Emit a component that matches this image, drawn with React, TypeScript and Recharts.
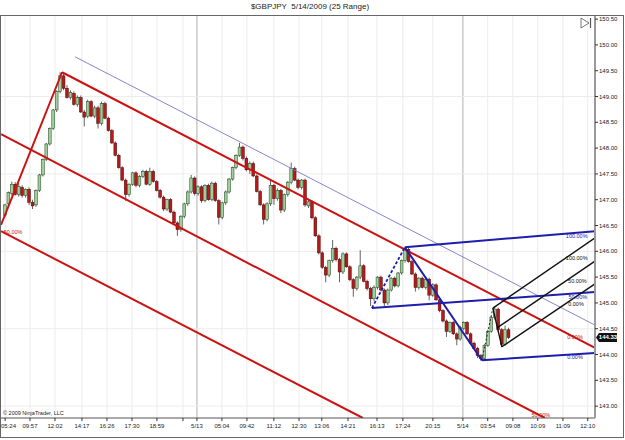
import React from 'react';
import { ComposedChart, Bar, XAxis, YAxis, ReferenceLine, ReferenceDot } from 'recharts';

// bar-chart candles [open, high, low, close], one per 25-pip range bar
const ohlc: number[][] = [
  [146.70,146.92,146.66,146.90],[146.92,147.16,146.88,147.14],[147.12,147.35,147.08,147.30],[147.30,147.34,147.08,147.10],
  [147.10,147.32,147.06,147.26],[147.24,147.28,147.04,147.08],[147.08,147.22,147.04,147.20],[147.20,147.24,146.90,146.95],
  [146.95,147.00,146.82,146.88],[146.90,147.20,146.86,147.18],[147.18,147.50,147.15,147.48],[147.48,147.80,147.45,147.78],
  [147.78,148.10,147.75,148.08],[148.08,148.40,148.05,148.38],[148.38,148.76,148.35,148.74],[148.74,149.12,148.70,149.10],
  [149.10,149.47,149.06,149.40],[149.40,149.44,149.12,149.16],[149.16,149.22,148.96,148.98],[148.98,149.12,148.94,149.08],
  [149.06,149.10,148.82,148.85],[148.85,149.02,148.80,148.98],[148.98,149.02,148.68,148.70],[148.70,148.74,148.42,148.60],
  [148.62,148.94,148.58,148.90],[148.90,148.93,148.60,148.62],[148.62,148.82,148.58,148.78],[148.78,148.82,148.38,148.48],
  [148.48,148.90,148.44,148.86],[148.86,148.90,148.56,148.58],[148.58,148.61,148.32,148.34],[148.34,148.37,148.08,148.10],
  [148.10,148.13,147.84,147.86],[147.86,147.89,147.60,147.62],[147.62,147.65,147.36,147.38],[147.38,147.41,146.98,147.10],
  [147.10,147.32,147.06,147.30],[147.30,147.54,147.27,147.52],[147.52,147.55,147.24,147.28],[147.28,147.48,147.24,147.45],
  [147.45,147.58,147.42,147.55],[147.55,147.58,147.28,147.30],[147.30,147.62,147.27,147.55],[147.55,147.58,147.33,147.35],
  [147.35,147.38,147.16,147.18],[147.18,147.21,147.02,147.05],[147.05,147.08,146.78,146.82],[146.82,147.02,146.78,147.00],
  [147.00,147.03,146.74,146.76],[146.76,146.79,146.53,146.55],[146.55,146.58,146.30,146.42],[146.42,146.70,146.38,146.68],
  [146.68,146.94,146.64,146.92],[146.92,147.18,146.88,147.15],[147.15,147.48,147.12,147.42],[147.42,147.45,147.08,147.12],
  [147.12,147.28,147.08,147.25],[147.25,147.28,146.94,146.98],[146.98,147.30,146.95,147.28],[147.28,147.31,146.98,147.00],
  [147.00,147.35,146.97,147.32],[147.32,147.35,146.96,146.98],[146.98,147.01,146.52,146.66],[146.66,146.96,146.62,146.94],
  [146.94,147.18,146.90,147.15],[147.15,147.42,147.12,147.40],[147.40,147.64,147.37,147.62],[147.62,147.88,147.59,147.86],
  [147.86,148.10,147.83,148.02],[148.02,148.05,147.76,147.80],[147.80,147.84,147.55,147.58],[147.58,147.74,147.50,147.70],
  [147.70,147.74,147.44,147.46],[147.46,147.49,147.14,147.16],[147.16,147.19,146.88,146.90],[146.90,146.93,146.52,146.62],
  [146.62,146.95,146.58,146.92],[146.92,147.40,146.88,147.28],[147.28,147.31,146.90,147.02],[147.02,147.22,146.98,147.18],
  [147.18,147.21,146.74,146.80],[146.80,147.12,146.76,147.10],[147.10,147.36,147.06,147.34],[147.34,147.72,147.30,147.60],
  [147.60,147.64,147.36,147.38],[147.38,147.41,147.20,147.24],[147.24,147.40,147.20,147.38],[147.38,147.41,146.86,146.90],
  [146.88,147.00,146.84,146.96],[146.96,146.99,146.62,146.65],[146.65,146.68,146.28,146.30],[146.30,146.33,145.94,145.97],
  [145.97,146.00,145.66,145.69],[145.69,145.72,145.40,145.54],[145.54,145.84,145.50,145.82],[145.82,146.22,145.78,146.06],
  [146.06,146.09,145.80,145.84],[145.84,145.87,145.40,145.60],[145.60,145.98,145.56,145.95],[145.95,145.98,145.68,145.70],
  [145.70,145.73,145.42,145.45],[145.45,145.48,145.12,145.28],[145.28,145.52,145.24,145.50],[145.50,146.02,145.46,145.72],
  [145.72,145.75,145.40,145.42],[145.42,145.45,145.24,145.28],[145.28,145.31,144.94,145.08],[145.08,145.34,145.04,145.30],
  [145.30,145.52,145.26,145.50],[145.50,145.53,145.22,145.25],[145.25,145.28,144.94,145.00],[145.00,145.28,144.96,145.25],
  [145.25,145.50,145.22,145.48],[145.48,145.51,145.30,145.33],[145.33,145.60,145.30,145.58],[145.58,145.84,145.55,145.82],
  [145.82,146.08,145.78,146.04],[146.04,146.07,145.78,145.80],[145.80,145.83,145.54,145.56],[145.56,145.59,145.22,145.30],
  [145.30,145.50,145.26,145.48],[145.48,145.51,145.28,145.30],[145.30,145.50,145.26,145.46],[145.46,145.49,145.05,145.15],
  [145.15,145.38,145.12,145.35],[145.35,145.38,145.04,145.06],[145.06,145.09,144.82,144.85],[144.85,144.88,144.62,144.65],
  [144.65,144.68,144.34,144.45],[144.45,144.64,144.42,144.62],[144.62,144.65,144.38,144.40],[144.40,144.43,144.18,144.30],
  [144.30,144.56,144.27,144.53],[144.50,144.64,144.47,144.62],[144.62,144.65,144.38,144.40],[144.40,144.43,144.20,144.22],
  [144.22,144.25,144.10,144.12],[144.12,144.15,143.93,143.98],[143.98,144.01,143.88,143.92],[143.92,144.20,143.89,144.18],
  [144.18,144.48,144.15,144.45],[144.45,144.74,144.42,144.72],[144.72,144.92,144.68,144.88],[144.88,144.91,144.44,144.48],
  [144.48,144.51,144.14,144.20],[144.20,144.56,144.17,144.48],[144.48,144.52,144.30,144.33],
];

// time axis labels and their bar positions
const timeLabels = ['05:24','09:57','12:02','14:17','16:26','17:30','18:59','','5/13','05:04','09:42','11:12','12:30','13:06','14:21','16:13','17:24','20:15','5/14','03:54','09:08','10:09','11:09','12:10'];
const timePos = [0,7.2,14.45,22.27,29.52,36.77,44,51.55,55.6,62.85,70.1,77.9,85.2,91.8,99.4,107.8,115.3,124,132.7,139.9,147.2,154.4,161.7,168.9];
const dayBreaks = ['5/13', '5/14'];

const priceTicks = [143, 143.5, 144, 144.5, 145, 145.5, 146, 146.5, 147, 147.5, 148, 148.5, 149, 149.5, 150, 150.5];
const priceGrid = [149, 147.5, 146, 144.5, 143];

// drawn trend tools: [barFrom, priceFrom, barTo, priceTo]
const redLines = [
  [-1.2, 146.51, 16.5, 149.47],
  [16.5, 149.47, 171, 144.13],
  [-1.2, 148.27, 156.46, 142.77],
  [-1.2, 146.39, 103.7, 142.77],
];
const thinLine = [20.25, 149.77, 171, 144.57];
const blueLines = [
  [115.88, 146.08, 138.2, 143.89],
  [115.88, 146.08, 171, 146.39],
  [106.32, 144.90, 171, 145.21],
  [138.2, 143.89, 171, 144.03],
];
const blueDashed = [106.32, 144.90, 115.88, 146.08];
const blackLines = [
  [141.39, 144.90, 144.0, 144.15],
  [141.39, 144.90, 171, 146.26],
  [142.69, 144.52, 171, 145.81],
  [144.0, 144.15, 171, 145.37],
];
const blackDashed = [138.2, 143.89, 141.39, 144.90];

// level labels: [bar, price, text, colour]
const levelLabels: [number, number, string, string][] = [
  [2.3, 146.37, '50.00%', '#c81414'],
  [155.3, 142.83, '50.00%', '#c81414'],
  [165.2, 144.33, '0.00%', '#c81414'],
  [165.7, 146.30, '100.00%', '#2020a8'],
  [166.0, 145.11, '50.00%', '#2020a8'],
  [165.2, 143.95, '0.00%', '#2020a8'],
  [165.7, 145.87, '100.00%', '#111'],
  [165.9, 145.42, '50.00%', '#111'],
  [165.5, 144.98, '0.00%', '#111'],
];

const data = ohlc.map((v, i) => ({ i, o: v[0], h: v[1], l: v[2], c: v[3] }));
const lastClose = ohlc[ohlc.length - 1][3];

const FONT = '"Liberation Sans", Arial, sans-serif';

const Candle = (props: any) => {
  const { x, y, width, height, payload } = props;
  if (x == null || y == null) return null;
  const { o, h, l, c } = payload;
  const yHi = Math.min(y, y + height);
  const yLo = Math.max(y, y + height);
  const toY = (p: number) => yHi + ((h - p) / (h - l)) * (yLo - yHi);
  const cx = x + width / 2;
  const up = c >= o;
  const yo = toY(o);
  const yc = toY(c);
  const top = Math.min(yo, yc);
  const bh = Math.max(1, Math.abs(yo - yc));
  return (
    <g>
      <line x1={cx} x2={cx} y1={yHi} y2={yLo} stroke="#3a3a3a" strokeWidth={0.8} />
      <rect x={cx - 1.4} y={top} width={2.8} height={bh}
        fill={up ? '#9fd09a' : '#b81818'} stroke={up ? '#1f3f1f' : '#4a0808'} strokeWidth={0.5} />
    </g>
  );
};

const TimeTick = (props: any) => {
  const { x, y, payload, index } = props;
  const label = timeLabels[index] ?? '';
  const nearLeft = x < 10;
  return (
    <text x={nearLeft ? 1 : x} y={y + 6} textAnchor={nearLeft ? 'start' : 'middle'} fontSize={6} fill="#222" fontFamily={FONT}>
      {label}
    </text>
  );
};

const seg = (s: number[]) => [{ x: s[0], y: s[1] }, { x: s[2], y: s[3] }];

export default function App() {
  return (
    <div style={{ position: 'absolute', left: 0, top: 0, width: 625, height: 440, background: '#fff', fontFamily: FONT, overflow: 'hidden' }}>
      <div style={{ position: 'absolute', top: 2, left: 0, width: 620, textAlign: 'center', fontSize: 8, color: '#222', whiteSpace: 'pre' }}>
        {'$GBPJPY  5/14/2009 (25 Range)'}
      </div>
      <div style={{ position: 'absolute', left: 0, top: 15, width: 622, height: 421, border: '1px solid #666' }} />
      <div style={{ position: 'absolute', left: 0, top: 0 }}>
        <ComposedChart width={625} height={440} data={data} margin={{ top: 16, right: 1, bottom: 2, left: 1 }}>
          {timePos.map((t, k) => (
            <ReferenceLine key={'vg' + k} x={t} stroke={dayBreaks.includes(timeLabels[k]) ? '#b0b0b0' : '#ececec'} strokeWidth={1} zIndex={-100} />
          ))}
          {priceGrid.map((p) => (
            <ReferenceLine key={'hg' + p} y={p} stroke="#ececec" strokeWidth={1} zIndex={-100} />
          ))}
          <XAxis dataKey="i" type="number" domain={[-1.2, 171]} allowDataOverflow ticks={timePos} interval={0}
            height={20} tick={<TimeTick />} tickSize={3} tickMargin={1}
            tickLine={{ stroke: '#333' }} axisLine={{ stroke: '#555' }} />
          <YAxis orientation="right" type="number" domain={[142.77, 150.56]} allowDataOverflow ticks={priceTicks} interval={0}
            tickFormatter={(v: number) => v.toFixed(2)} width={29}
            tick={{ fontSize: 6, fill: '#222', fontFamily: FONT }} tickSize={3} tickMargin={1}
            tickLine={{ stroke: '#333' }} axisLine={{ stroke: '#9a9a9a', strokeWidth: 2 }} />
          <Bar dataKey={(d: any) => [d.l, d.h]} barSize={3} shape={Candle} isAnimationActive={false} />
          <ReferenceLine segment={seg(thinLine)} stroke="#7878c8" strokeWidth={0.9} ifOverflow="hidden" />
          {redLines.map((s, k) => (
            <ReferenceLine key={'r' + k} segment={seg(s)} stroke="#cc1111" strokeWidth={2} ifOverflow="hidden" />
          ))}
          {blueLines.map((s, k) => (
            <ReferenceLine key={'b' + k} segment={seg(s)} stroke="#1e1eaa" strokeWidth={2} ifOverflow="hidden" />
          ))}
          <ReferenceLine segment={seg(blueDashed)} stroke="#1e1eaa" strokeWidth={1.8} strokeDasharray="3 2" ifOverflow="hidden" />
          {blackLines.map((s, k) => (
            <ReferenceLine key={'k' + k} segment={seg(s)} stroke="#111" strokeWidth={1.4} ifOverflow="hidden" />
          ))}
          <ReferenceLine segment={seg(blackDashed)} stroke="#222" strokeWidth={1} strokeDasharray="2 2" ifOverflow="hidden" />
          {levelLabels.map((lb, k) => (
            <ReferenceDot key={'lb' + k} x={lb[0]} y={lb[1]} r={0} ifOverflow="visible"
              shape={(p: any) => (
                <text x={p.cx} y={p.cy} dy={2} textAnchor="middle" fontSize={5.5} fill={lb[3]} fontFamily={FONT}>{lb[2]}</text>
              )} />
          ))}
          <ReferenceDot x={171} y={lastClose} r={0} ifOverflow="visible"
            shape={(p: any) => (
              <g>
                <path d={`M${p.cx + 1},${p.cy} L${p.cx + 4},${p.cy - 4.5} L${p.cx + 22},${p.cy - 4.5} L${p.cx + 22},${p.cy + 4.5} L${p.cx + 4},${p.cy + 4.5} Z`} fill="#111" />
                <text x={p.cx + 13} y={p.cy + 2} textAnchor="middle" fontSize={6} fontWeight="bold" fill="#fff" fontFamily={FONT}>{lastClose.toFixed(2)}</text>
              </g>
            )} />
        </ComposedChart>
      </div>
      <div style={{ position: 'absolute', left: 3, top: 410, fontSize: 5.5, color: '#222', whiteSpace: 'pre' }}>© 2009 NinjaTrader, LLC</div>
      <svg style={{ position: 'absolute', left: 578, top: 17 }} width={16} height={14}>
        <polygon points="3,1 11,6 3,11" fill="none" stroke="#555" strokeWidth={0.8} />
        <line x1={12.5} y1={1} x2={12.5} y2={11} stroke="#555" strokeWidth={1.2} />
      </svg>
    </div>
  );
}
